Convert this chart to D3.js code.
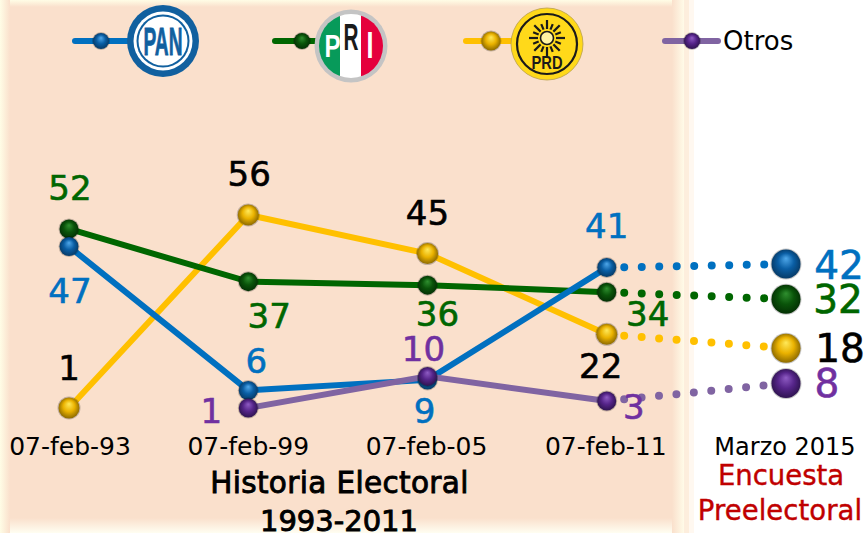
<!DOCTYPE html>
<html><head><meta charset="utf-8">
<script src="https://cdn.jsdelivr.net/npm/d3@7"></script>
<style>html,body{margin:0;padding:0;background:#fff}svg{display:block}text{font-family:"DejaVu Sans",sans-serif}</style>
</head><body><svg id="c" width="867" height="533"></svg>
<script>
const categories = ["07-feb-93","07-feb-99","07-feb-05","07-feb-11","Marzo 2015"];
const panValues  = [47,6,9,41,42];
const priValues  = [52,37,36,34,32];
const prdValues  = [1,56,45,22,18];
const otrosValues= [null,1,10,3,8];
const seriesNames = ["PAN","PRI","PRD","Otros"];

const colors = {PAN:"#0070c0",PRI:"#006600",PRD:"#ffc000",Otros:"#8064a2"};
const textColors = {PAN:"#0070c0",PRI:"#006600",PRD:"#000000",Otros:"#7030a0"};
const ballColors = {PAN:["#4fa8ea","#0a5ea4","#06365f"],PRI:["#2f8f2f","#0a540a","#032c03"],PRD:["#ffe95a","#eab200","#806000"],Otros:["#8f5cc4","#56258a","#2a1149"]};
// label placement, per series, relative to the point: [dx, baseline dy]
const labelOffsets = {
  PAN:[[1,56],[8,-17],[-3,43],[0,-30],[53,15]],
  PRI:[[1,-29],[21,46],[10,41],[41,34],[52,14]],
  PRD:[[0,-28],[1,-29],[0,-29],[-6,44],[54,14]],
  Otros:[null,[-37,15],[-4,-15],[27,18],[41,14]]
};

const svg = d3.select("#c");
const defs = svg.append("defs");
const x = d3.scalePoint().domain(categories).range([69,786]);
const y = d3.scaleLinear().domain([0,60]).range([411.5,200.9]);

// background
const hg = defs.append("linearGradient").attr("id","fadeR");
hg.append("stop").attr("offset",0).attr("stop-color","#fae0cc");
hg.append("stop").attr("offset",1).attr("stop-color","#fffbe8");
const hl = defs.append("linearGradient").attr("id","fadeL");
hl.append("stop").attr("offset",0).attr("stop-color","#fffde6");
hl.append("stop").attr("offset",1).attr("stop-color","#fae0cc");
const ht = defs.append("linearGradient").attr("id","fadeT").attr("x2",0).attr("y2",1);
ht.append("stop").attr("offset",0).attr("stop-color","#fffde6");
ht.append("stop").attr("offset",1).attr("stop-color","#fae0cc");
const hb = defs.append("linearGradient").attr("id","fadeB").attr("x2",0).attr("y2",1);
hb.append("stop").attr("offset",0).attr("stop-color","#fae0cc");
hb.append("stop").attr("offset",1).attr("stop-color","#fffef2");
svg.append("rect").attr("x",0).attr("y",0).attr("width",684).attr("height",533).attr("fill","#fae0cc");
svg.append("rect").attr("x",0).attr("y",0).attr("width",684).attr("height",7).attr("fill","url(#fadeT)");
svg.append("rect").attr("x",0).attr("y",518).attr("width",684).attr("height",15).attr("fill","url(#fadeB)");
svg.append("rect").attr("x",0).attr("y",0).attr("width",10).attr("height",533).attr("fill","url(#fadeL)");
svg.append("rect").attr("x",672).attr("y",0).attr("width",12).attr("height",533).attr("fill","url(#fadeR)");
svg.append("rect").attr("x",684).attr("y",0).attr("width",5).attr("height",533).attr("fill","#fdeedd");
svg.append("rect").attr("x",689).attr("y",0).attr("width",5).attr("height",533).attr("fill","#fff8f0");

// ball gradients
seriesNames.forEach(s=>{
  const g = defs.append("radialGradient").attr("id","ball"+s).attr("cx",.5).attr("cy",.5).attr("r",.55).attr("fx",.5).attr("fy",.3);
  g.append("stop").attr("offset",0).attr("stop-color",ballColors[s][0]);
  g.append("stop").attr("offset",.5).attr("stop-color",ballColors[s][1]);
  g.append("stop").attr("offset",1).attr("stop-color",ballColors[s][2]);
});
function ball(s,cx,cy,r){
  svg.append("circle").attr("cx",cx).attr("cy",cy).attr("r",r+1).attr("fill","#000").attr("opacity",.22);
  svg.append("circle").attr("cx",cx).attr("cy",cy).attr("r",r).attr("fill",`url(#ball${s})`);
}

const seriesValues = {PAN:panValues,PRI:priValues,PRD:prdValues,Otros:otrosValues};
const line = d3.line().defined(d=>d.v!==null).x(d=>x(d.c)).y(d=>y(d.v));
const order = ["PRD","PRI","PAN","Otros"];
order.forEach(s=>{
  const pts = categories.map((c,i)=>({c,v:seriesValues[s][i]}));
  svg.append("path").attr("d",line(pts.slice(0,4))).attr("fill","none")
    .attr("stroke",colors[s]).attr("stroke-width",6).attr("stroke-linecap","round");
  svg.append("path").attr("d",line(pts.slice(3))).attr("fill","none")
    .attr("stroke",colors[s]).attr("stroke-width",8).attr("stroke-linecap","round")
    .attr("stroke-dasharray","0 17.5");
});
order.forEach(s=>{
  categories.forEach((c,i)=>{
    const v = seriesValues[s][i];
    if(v===null) return;
    ball(s,x(c),y(v),i===4?14.5:(s==="PRD"?10.5:9.5));
  });
});
// value labels
seriesNames.forEach(s=>{
  categories.forEach((c,i)=>{
    const v = seriesValues[s][i];
    if(v===null) return;
    const o = labelOffsets[s][i];
    svg.append("text").attr("x",x(c)+o[0]).attr("y",y(v)+o[1]).attr("text-anchor","middle")
      .attr("font-size",i===4?39:34).attr("fill",textColors[s])
      .attr("stroke",textColors[s]).attr("stroke-width",.6).text(v);
  });
});
// category labels
categories.forEach((c,i)=>{
  svg.append("text").attr("x",i===4?785:x(c)+(i===0?1:i===3?-1:i===2?-1:0)).attr("y",455).attr("text-anchor","middle")
    .attr("font-size",i===4?24:25).attr("fill","#000").text(c);
});
const strong = (t,tx,ty,fs,fill,sw,ls)=>svg.append("text").attr("x",tx).attr("y",ty).attr("text-anchor","middle")
  .attr("font-size",fs).attr("fill",fill).attr("stroke",fill).attr("stroke-width",sw).attr("letter-spacing",ls).text(t);
strong("Historia Electoral",339.5,493,29.5,"#000",.9,.35);
strong("1993-2011",339,531,29,"#000",.9,0);
strong("Encuesta",781,485,27.5,"#c00000",.4,0);
strong("Preelectoral",780,520,27.5,"#c00000",.4,.05);

// legend
[["PAN",75,130,101],["PRI",275,320,302],["PRD",466,512,491],["Otros",665,718,692]].forEach(([s,a,b,c])=>{
  svg.append("line").attr("x1",a).attr("x2",b).attr("y1",41).attr("y2",41).attr("stroke",colors[s]).attr("stroke-width",6).attr("stroke-linecap","round");
  ball(s,c,41,s==="PRD"?9.5:8);
});
svg.append("text").attr("x",723).attr("y",50).attr("font-size",26).attr("fill","#000").text("Otros");

// PAN logo
const pan = svg.append("g").attr("transform","translate(163,41)");
pan.append("circle").attr("r",36).attr("fill","#11609f");
pan.append("circle").attr("r",29.5).attr("fill","#fff");
pan.append("circle").attr("r",26.5).attr("fill","#11609f");
pan.append("circle").attr("r",24.5).attr("fill","#fff");
pan.append("text").attr("y",14).attr("text-anchor","middle").attr("font-size",38).attr("font-weight",700)
  .attr("fill","#11609f").attr("stroke","#11609f").attr("stroke-width",.8).attr("textLength",39).attr("lengthAdjust","spacingAndGlyphs").style("font-family","'Liberation Sans Narrow','Liberation Sans',sans-serif").text("PAN");

// PRI logo
const pri = svg.append("g").attr("transform","translate(351,46)");
defs.append("clipPath").attr("id","priClip").append("circle").attr("r",32);
pri.append("circle").attr("r",36.5).attr("fill","#c4c4c4");
const st = pri.append("g").attr("clip-path","url(#priClip)");
st.append("rect").attr("x",-33).attr("y",-33).attr("width",22).attr("height",66).attr("fill","#079a5a");
st.append("rect").attr("x",-11).attr("y",-33).attr("width",21).attr("height",66).attr("fill","#fff");
st.append("rect").attr("x",10).attr("y",-33).attr("width",23).attr("height",66).attr("fill","#e5003c");
const priT = (t,tx,ty,f,fs,w)=>pri.append("text").attr("x",tx).attr("y",ty).attr("text-anchor","middle").attr("font-size",fs).attr("font-weight",700).attr("fill",f).attr("textLength",w).attr("lengthAdjust","spacingAndGlyphs").style("font-family","'Liberation Sans',sans-serif").text(t);
priT("P",-18.5,11,"#fff",31,16); priT("R",0,4,"#1a1a1a",37,15); priT("I",19,12,"#fff",36,7);

// PRD logo
const prd = svg.append("g").attr("transform","translate(547,44)");
prd.append("circle").attr("r",36).attr("fill","#ffd91a").attr("stroke","#b9a04a").attr("stroke-width",.8);
prd.append("circle").attr("r",30).attr("fill","none").attr("stroke","#1a1a1a").attr("stroke-width",2.2);
prd.append("g").attr("transform","translate(0,-6)").selectAll("line").data(d3.range(16)).join("line")
  .attr("x1",d=>9*Math.cos(d*Math.PI/8)).attr("y1",d=>9*Math.sin(d*Math.PI/8))
  .attr("x2",d=>(d%2?15:18)*Math.cos(d*Math.PI/8)).attr("y2",d=>(d%2?15:18)*Math.sin(d*Math.PI/8))
  .attr("stroke","#1a1a1a").attr("stroke-width",2.2);
prd.append("circle").attr("cy",-6).attr("r",6.5).attr("fill","#fff3a0").attr("stroke","#1a1a1a").attr("stroke-width",1.6);
prd.append("text").attr("y",25).attr("text-anchor","middle").attr("font-size",18).attr("font-weight",700)
  .attr("fill","#1a1a1a").style("font-family","'Liberation Sans',sans-serif").attr("textLength",31).attr("lengthAdjust","spacingAndGlyphs").text("PRD");
</script></body></html>
